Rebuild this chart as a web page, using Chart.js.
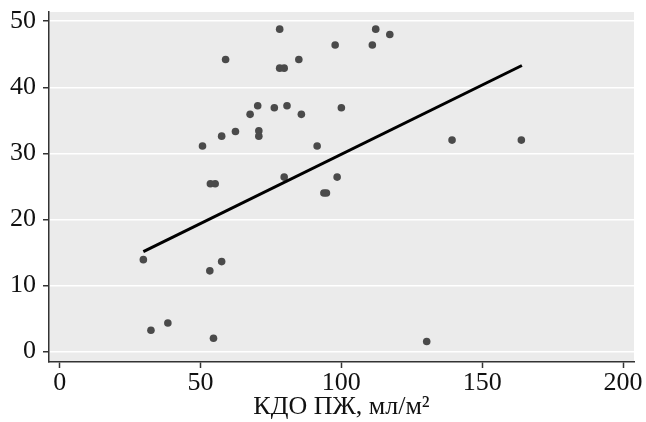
<!DOCTYPE html>
<html>
<head>
<meta charset="utf-8">
<script src="https://cdn.jsdelivr.net/npm/chart.js@4.4.1/dist/chart.umd.min.js"></script>
<style>
html,body{margin:0;padding:0;background:#fff;}
#wrap{width:646px;height:422px;}
</style>
</head>
<body>
<div id="wrap"><canvas id="c" width="646" height="422"></canvas></div>
<script>
const xValues = [50.7, 53.5, 55.2, 57.5, 58.9, 62.4, 67.6, 70.3, 70.7, 70.7, 76.2, 78.1, 78.1, 79.7, 79.7, 80.7, 84.9, 85.8, 91.4, 93.8, 94.7, 97.8, 98.5, 100.0, 111.0, 112.2, 117.2, 139.3, 163.9, 29.7, 32.4, 38.4, 53.3, 57.5, 54.6, 130.3];
const yValues = [31.1, 25.4, 25.4, 32.6, 44.2, 33.3, 35.9, 37.2, 33.4, 32.6, 36.9, 48.8, 42.9, 42.9, 26.4, 37.2, 44.2, 35.9, 31.1, 24.0, 24.0, 46.4, 26.4, 36.9, 46.4, 48.8, 48.0, 32.0, 32.0, 13.9, 3.2, 4.3, 12.2, 13.6, 2.0, 1.5];
const fitX = [29.7, 164.1];
const fitY = [15.1, 43.3];
const xTicks = [0, 50, 100, 150, 200];
const yTicks = [0, 10, 20, 30, 40, 50];
const xTitle = 'КДО ПЖ, мл/м²';

const points = xValues.map((x, i) => ({x: x, y: yValues[i]}));
const fitLine = fitX.map((x, i) => ({x: x, y: fitY[i]}));

const bgPlugin = {
  id: 'plotBg',
  beforeDraw(chart) {
    const {ctx, chartArea: a} = chart;
    ctx.save();
    ctx.fillStyle = '#fff';
    ctx.fillRect(0, 0, chart.width, chart.height);
    ctx.fillStyle = '#ebebeb';
    ctx.fillRect(a.left, a.top, a.right - a.left, a.bottom - a.top);
    ctx.restore();
  }
};

const font = {family: '"Liberation Serif", "Times New Roman", serif', size: 26};

new Chart(document.getElementById('c'), {
  type: 'scatter',
  data: {
    datasets: [
      {
        type: 'line',
        data: fitLine,
        borderColor: '#000',
        borderWidth: 3,
        pointRadius: 0,
        fill: false,
        tension: 0
      },
      {
        data: points,
        backgroundColor: '#4a4a4a',
        borderColor: '#4a4a4a',
        borderWidth: 0,
        pointRadius: 3.8,
        pointHoverRadius: 3.8
      }
    ]
  },
  options: {
    responsive: false,
    animation: false,
    events: [],
    layout: {padding: {left: 0, top: 12, right: 12, bottom: 0}},
    plugins: {legend: {display: false}, tooltip: {enabled: false}},
    scales: {
      x: {
        type: 'linear',
        min: -3.8,
        max: 203.9,
        afterBuildTicks(s) { s.ticks = xTicks.map(v => ({value: v})); },
        afterFit(s) { s.height = 60; s.paddingLeft = 0; s.paddingRight = 0; },
        grid: {drawOnChartArea: false, tickColor: '#333', tickLength: 6, tickWidth: 1.5},
        border: {display: true, color: '#333', width: 1.5},
        ticks: {color: '#111', font: font, padding: 0, maxRotation: 0, autoSkip: false},
        title: {display: true, text: xTitle, color: '#111', font: font, padding: {top: 0, bottom: -1}}
      },
      y: {
        type: 'linear',
        min: -1.6,
        max: 51.4,
        afterBuildTicks(s) { s.ticks = yTicks.map(v => ({value: v})); },
        afterFit(s) { s.width = 49; s.paddingTop = 0; s.paddingBottom = 0; },
        grid: {color: '#ffffff', lineWidth: 1.5, tickColor: '#333', tickLength: 6, tickWidth: 1.5},
        border: {display: true, color: '#333', width: 1.5},
        ticks: {color: '#111', font: font, padding: 7, autoSkip: false}
      }
    }
  },
  plugins: [bgPlugin]
});
</script>
</body>
</html>
